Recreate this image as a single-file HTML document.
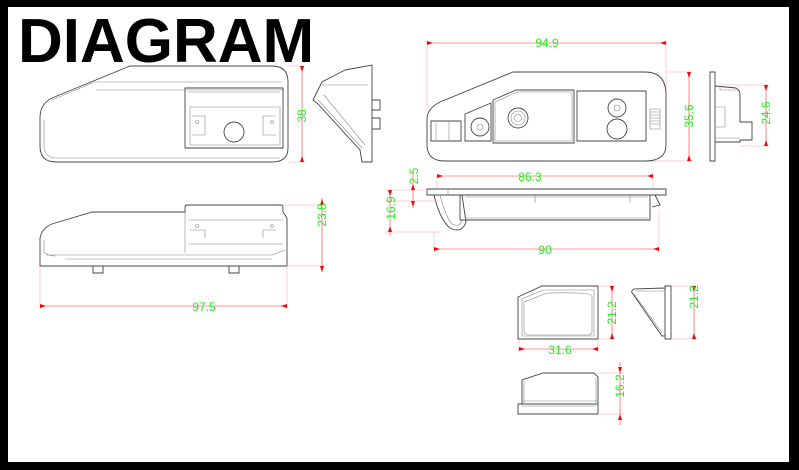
<!DOCTYPE html>
<html><head><meta charset="utf-8"><style>
html,body{margin:0;padding:0;background:#000;}
svg{display:block;}
.o{fill:none;stroke:#444;stroke-width:0.9;}
.i{fill:none;stroke:#888;stroke-width:0.6;}
.d{stroke:#f33;stroke-width:0.6;fill:none;}
.e{stroke:#f9a;stroke-width:0.5;fill:none;}
.t{fill:#2e2;font-family:"Liberation Sans Narrow","Liberation Sans",sans-serif;font-size:12px;}
.a{fill:#f00;}
</style></head><body>
<svg width="799" height="470" viewBox="0 0 799 470" xmlns="http://www.w3.org/2000/svg">
<rect x="0" y="0" width="799" height="470" fill="#000"/>
<rect x="8" y="7" width="781" height="455" fill="#fff"/>
<text x="18" y="62" font-family="Liberation Sans, sans-serif" font-weight="bold" font-size="62" fill="#000">DIAGRAM</text>

<!-- view 1 -->
<path class="o" d="M130 66 L272 66 Q288 66 288 82 L288 148 Q288 162 272 162 L56 162 Q40 162 40 146 L40 118 Q40 104 52 98 Z"/>
<path class="i" d="M92 82 L282 82 M96 90 L284 90 M44 120 L44 148 Q46 158 56 158 L280 158 M52 100 L92 83"/>
<path class="o" d="M185 88 L283 88 L283 148 L185 148 Z"/>
<path class="i" d="M188 92 L280 92 M190 107 L280 107 L280 145 L190 145 Z M192 116 L205 116 L205 135 L192 135 M276 116 L263 116 L263 135 L276 135"/>
<circle class="o" cx="234" cy="132" r="10"/>
<circle class="i" cx="197" cy="122" r="1.5"/><circle class="i" cx="272" cy="122" r="1.5"/>
<path class="e" d="M288 66 L305 66 M288 162 L305 162"/>
<path class="d" d="M302 66 L302 162"/>
<path class="a" d="M300 66 L304 66 L302 72Z M300 162 L304 162 L302 156Z"/>
<text class="t" transform="translate(306,116) rotate(-90)" text-anchor="middle">38</text>

<!-- side view 1 -->
<path class="o" d="M345 70 L372 65 L372 162 L362 162 L360 150 L318 104 L313 100 L322 82 Z"/>
<path class="i" d="M322 85 L368 85 M318 100 L362 148 M324 95 L365 145"/>
<path class="o" d="M372 100 L380 100 L380 110 L372 110 M372 118 L380 118 L380 129 L372 129"/>

<!-- view 2 -->
<path class="o" d="M92 212 L185 212 L185 207 Q185 205 188 205 L281 205 Q283 205 283 208 L283 212 L287 218 L287 266 L40 266 L40 238 Q42 228 52 224 Z"/>
<path class="i" d="M185 212 L185 253 M188 220 L283 220 M188 244 L283 244 M190 230 L205 230 L205 238 M276 230 L263 230 L263 238 M46 255 L272 255 M65 259 L272 259 M44 240 L44 252 Q48 256 56 256 M272 255 L285 250"/>
<circle class="i" cx="197" cy="226" r="1.5"/><circle class="i" cx="272" cy="226" r="1.5"/>
<path class="o" d="M93 266 L93 273 L103 273 L103 266 M229 266 L229 273 L239 273 L239 266"/>
<path class="e" d="M283 205 L325 205 M287 266 L325 266 M40 266 L40 310 M287 266 L287 310"/>
<path class="d" d="M322 198 L322 272 M40 306 L287 306"/>
<path class="a" d="M320 205 L324 205 L322 199Z M320 266 L324 266 L322 272Z M40 304 L40 308 L46 306Z M287 304 L287 308 L281 306Z"/>
<text class="t" transform="translate(326,215) rotate(-90)" text-anchor="middle">23.8</text>
<text class="t" x="204" y="311" text-anchor="middle">97.5</text>

<!-- right top view -->
<path class="e" d="M427 40 L427 110 M666 40 L666 95 M666 72 L692 72 M645 161 L692 161"/>
<path class="d" d="M427 43 L666 43 M689 72 L689 161"/>
<path class="a" d="M427 41 L427 45 L433 43Z M666 41 L666 45 L660 43Z M687 72 L691 72 L689 78Z M687 161 L691 161 L689 155Z"/>
<text class="t" x="547" y="47" text-anchor="middle">94.9</text>
<text class="t" transform="translate(693,116) rotate(-90)" text-anchor="middle">35.6</text>
<path class="o" d="M513 72 L645 72 Q666 72 666 95 L666 145 Q666 161 645 161 L445 161 Q427 161 427 145 L427 118 Q428 108 440 102 Z"/>
<path class="o" d="M431 121 L461 121 L461 141 L431 141 Z M465 114 L491 103 L491 141 L465 141 Z M493 100 L516 90 L574 90 L574 143 L493 143 Z M577 91 L646 91 L646 141 L577 141 Z"/>
<path class="i" d="M495 102 L517 92 L572 92 L572 141 L495 141 Z M449 121 L449 141 M436 123 L436 141"/>
<circle class="o" cx="480" cy="127" r="9"/><circle class="i" cx="480" cy="127" r="3"/>
<circle class="o" cx="518" cy="118" r="10"/><circle class="i" cx="518" cy="118" r="7"/><circle class="i" cx="518" cy="118" r="3.5"/>
<circle class="o" cx="617" cy="108" r="9"/><circle class="i" cx="617" cy="108" r="3"/>
<circle class="o" cx="617" cy="129" r="10"/>
<path class="i" d="M650 109 L660 109 L660 129 L650 129 Z M650 112 L660 112 M650 115 L660 115 M650 118 L660 118 M650 121 L660 121 M650 124 L660 124"/>

<!-- far right side -->
<path class="o" d="M710 72 L715 72 L715 161 L710 161 Z M715 86 L736 88 Q740 90 740 95 L740 122 L752 122 L752 140 L740 140 L740 142 L715 142"/>
<path class="i" d="M716 107 L725 107 L725 127 L716 127 M720 86 L720 90 L738 90 M715 138 L740 138"/>
<path class="e" d="M720 85 L770 85 M740 146 L770 146"/>
<path class="d" d="M766 85 L766 146"/>
<path class="a" d="M764 85 L768 85 L766 91Z M764 146 L768 146 L766 140Z"/>
<text class="t" transform="translate(770,113) rotate(-90)" text-anchor="middle">24.6</text>

<!-- middle side view -->
<path class="o" d="M427 189 L666 189 L666 195 L427 195 Z"/>
<path class="i" d="M448 189 L448 195"/>
<path class="o" d="M434 195 Q440 220 450 228 Q462 234 466 222 L462 195 M460 195 L460 220 L650 220 L650 195 M655 195 L660 205 L652 207"/>
<path class="i" d="M440 195 Q446 218 452 224 Q460 228 462 220 M465 197 L648 197 M465 218 L648 218 M535 195 L535 203 M630 195 L630 203"/>
<path class="e" d="M437 176 L437 189 M653 176 L653 189 M434 232 L434 252 M659 210 L659 252 M385 190 L430 190 M385 201 L440 201 M385 232 L440 232"/>
<path class="d" d="M437 176 L653 176 M434 249 L659 249 M413 170 L413 208 M390 190 L390 236"/>
<path class="a" d="M437 174 L437 178 L443 176Z M653 174 L653 178 L647 176Z M434 247 L434 251 L440 249Z M659 247 L659 251 L653 249Z M411 190 L415 190 L413 184Z M411 201 L415 201 L413 207Z M388 190 L392 190 L390 196Z M388 232 L392 232 L390 226Z"/>
<text class="t" x="530" y="181" text-anchor="middle">86.3</text>
<text class="t" x="545" y="254" text-anchor="middle">90</text>
<text class="t" transform="translate(418,176) rotate(-90)" text-anchor="middle">2.5</text>
<text class="t" transform="translate(395,208) rotate(-90)" text-anchor="middle">16.9</text>

<!-- bottom right front -->
<path class="o" d="M542 286 L598 286 L598 339 L518 339 L518 297 Z"/>
<path class="i" d="M543 290 L594 290 L594 336 L522 336 L522 299 Z M547 293 Q592 292 592 296 L592 332 Q592 335 588 335 L528 335 Q524 335 524 331 L524 302 Z"/>
<path class="e" d="M598 286 L616 286 M598 339 L616 339 M519 339 L519 352 M598 339 L598 352"/>
<path class="d" d="M612 286 L612 339 M519 349 L598 349"/>
<path class="a" d="M610 286 L614 286 L612 292Z M610 339 L614 339 L612 333Z M519 347 L519 351 L525 349Z M598 347 L598 351 L592 349Z"/>
<text class="t" transform="translate(616,313) rotate(-90)" text-anchor="middle">21.2</text>
<text class="t" x="560" y="354" text-anchor="middle">31.6</text>

<!-- bottom right side -->
<path class="o" d="M665 286 L671 286 L671 339 L665 339 Z M665 288 L634 289 Q630 291 633 294 L662 336 L665 336"/>
<path class="i" d="M665 291 L636 291 M634 294 L662 333"/>
<path class="e" d="M671 286 L698 286 M671 339 L698 339"/>
<path class="d" d="M694 286 L694 339"/>
<path class="a" d="M692 286 L696 286 L694 292Z M692 339 L696 339 L694 333Z"/>
<text class="t" transform="translate(698,297) rotate(-90)" text-anchor="middle">21.2</text>

<!-- bottom right bottom -->
<path class="o" d="M543 373 L594 373 L598 377 L598 404 L522 404 L522 380 Z M518 404 L598 404 L598 414 L518 414 Z"/>
<path class="i" d="M522 406 L596 406 M524 404 L524 381 M596 378 L596 404 M522 401 L598 401"/>
<path class="e" d="M598 373 L624 373 M598 414 L624 414"/>
<path class="d" d="M620 362 L620 425"/>
<path class="a" d="M618 367 L622 367 L620 373Z M618 420 L622 420 L620 414Z"/>
<text class="t" transform="translate(624,386) rotate(-90)" text-anchor="middle">16.2</text>
</svg>
</body></html>
